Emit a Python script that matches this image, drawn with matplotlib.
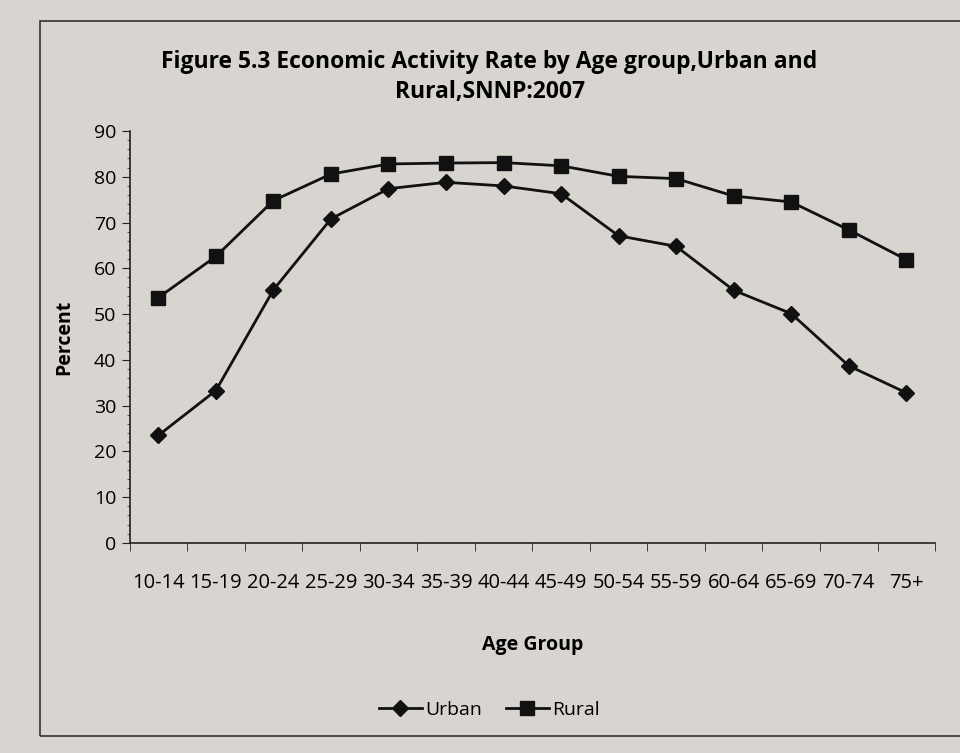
import matplotlib.pyplot as plt
from matplotlib.patches import Rectangle
from matplotlib.ticker import MultipleLocator
from matplotlib.lines import Line2D

plt.rcParams['font.family'] = ['Open Sans', 'DejaVu Sans']

# Data
age_groups = ['10-14', '15-19', '20-24', '25-29', '30-34', '35-39', '40-44',
              '45-49', '50-54', '55-59', '60-64', '65-69', '70-74', '75+']
urban = [23.5, 33.3, 55.3, 70.8, 77.4, 78.8, 78.0, 76.3, 67.1, 64.8, 55.2, 50.1, 38.7, 32.8]
rural = [53.6, 62.6, 74.8, 80.6, 82.8, 83.0, 83.1, 82.4, 80.1, 79.6, 75.8, 74.5, 68.4, 61.9]

bg = '#d8d5d1'
fig = plt.figure(figsize=(9.6, 7.53), dpi=100, facecolor=bg)
ax = fig.add_axes([0.135, 0.279, 0.839, 0.547])
ax.set_facecolor(bg)

x = list(range(len(age_groups)))
ax.plot(x, urban, color='#111111', lw=2, marker='D', ms=8, label='Urban')
ax.plot(x, rural, color='#111111', lw=2, marker='s', ms=10, label='Rural')

ax.set_xlim(-0.5, len(age_groups) - 0.5)
ax.set_ylim(0, 90)
ax.yaxis.set_major_locator(MultipleLocator(10))
ax.yaxis.set_minor_locator(MultipleLocator(2))
ax.set_xticks(x)
ax.set_xticklabels(age_groups, fontsize=14.5)
ax.set_xticks([i - 0.5 for i in range(len(age_groups) + 1)], minor=True)
ax.tick_params(axis='x', which='major', length=0, pad=22)
ax.tick_params(axis='x', which='minor', length=6, direction='out', color='#222222')
ax.tick_params(axis='y', which='major', labelsize=14, length=6, color='#222222')
ax.tick_params(axis='y', which='minor', length=2, color='#444444')

for side in ['top', 'right']:
    ax.spines[side].set_visible(False)
for side in ['left', 'bottom']:
    ax.spines[side].set_color('#222222')
    ax.spines[side].set_linewidth(1.2)

ax.set_ylabel('Percent', fontsize=14, fontweight='bold', labelpad=14)
ax.set_xlabel('Age Group', fontsize=14, fontweight='bold', labelpad=30)

fig.text(0.51, 0.898, 'Figure 5.3 Economic Activity Rate by Age group,Urban and\nRural,SNNP:2007',
         ha='center', va='center', fontsize=16.5, fontweight='bold', linespacing=1.35)

handles = [Line2D([], [], color='#111111', lw=2, marker='D', ms=8),
           Line2D([], [], color='#111111', lw=2, marker='s', ms=10)]
fig.legend(handles, ['Urban', 'Rural'], loc='center', bbox_to_anchor=(0.51, 0.057),
           ncol=2, frameon=False, fontsize=14, handlelength=2.2,
           handletextpad=0.2, columnspacing=1.2)

# outer chart frame
fig.patches.append(Rectangle((0.042, 0.022), 0.97, 0.95, transform=fig.transFigure,
                             fill=False, edgecolor='#333333', lw=1.2))

fig.savefig('out.png', dpi=100, facecolor=bg)
